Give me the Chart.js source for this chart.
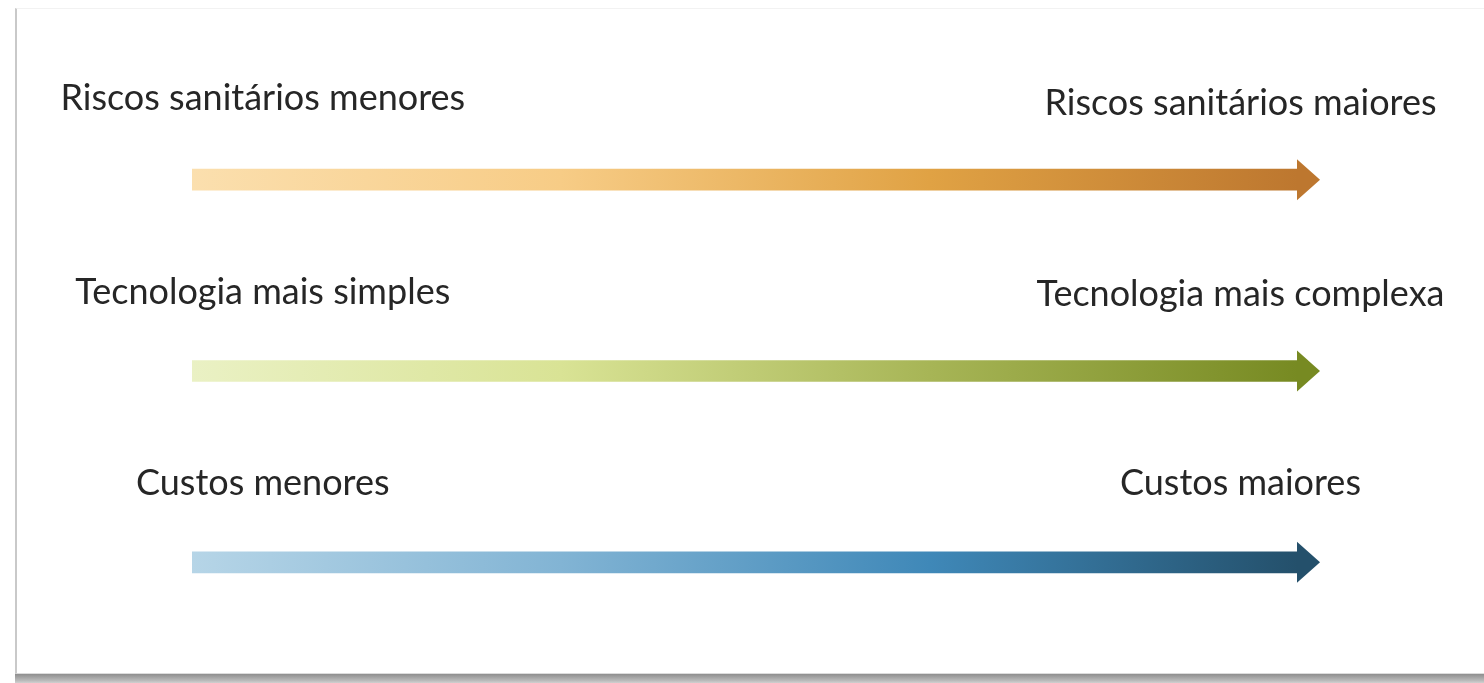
<!DOCTYPE html>
<html>
<head>
<meta charset="utf-8">
<script src="https://cdn.jsdelivr.net/npm/chart.js@4"></script>
<style>
  html, body { margin: 0; padding: 0; background: #ffffff; }
  body { width: 1484px; height: 683px; position: relative; overflow: hidden; }
  #card {
    position: absolute; left: 15px; top: 8px; width: 1480px; height: 664px;
    background: #fff; border-left: 2px solid #c9c9c9; border-top: 1px solid #f2f2f2;
    border-bottom: 1px solid #dcdcdc;
  }
  #shadow {
    position: absolute; left: 15px; top: 674px; width: 1480px; height: 9px;
    background: linear-gradient(#8e8e8e, #b8b8b8 70%, #d0d0d0);
  }
  canvas { position: absolute; left: 0; top: 0; }
</style>
</head>
<body>
<div id="card"></div>
<div id="shadow"></div>
<canvas id="chart" width="1484" height="683"></canvas>
<script>
// dados do diagrama
const rows = ['Riscos sanitários', 'Tecnologia', 'Custos'];
const arrowStart = [0, 0, 0];
const arrowEnd = [100, 100, 100];
const leftLabels = ['Riscos sanitários menores', 'Tecnologia mais simples', 'Custos menores'];
const rightLabels = ['Riscos sanitários maiores', 'Tecnologia mais complexa', 'Custos maiores'];

// cores dos gradientes (inicio -> fim)
const gradientStops = [
    ['#fbdfae', '#f7cc86', '#e0a244', '#bd772f'],
    ['#eaf1c4', '#d9e395', '#a7b556', '#778a22'],
    ['#b6d5e7', '#82b4d4', '#3f88b8', '#24506b']
];

function makeGradient(chart, i) {
    const area = chart.chartArea;
    if (!area) return gradientStops[i][0];
    const g = chart.ctx.createLinearGradient(area.left, 0, area.right, 0);
    const stops = gradientStops[i];
    stops.forEach((c, k) => g.addColorStop(k / (stops.length - 1), c));
    return g;
}

// pontas das setas + textos
const arrowPlugin = {
    id: 'arrows',
    afterDatasetsDraw(chart) {
        const ctx = chart.ctx;
        const meta = chart.getDatasetMeta(0);
        const xScale = chart.scales.x;
        meta.data.forEach((bar, i) => {
            const stops = gradientStops[i];
            ctx.save();
            ctx.fillStyle = stops[stops.length - 1];
            ctx.beginPath();
            ctx.moveTo(bar.x - 1, bar.y - 20.5);
            ctx.lineTo(bar.x + 22, bar.y);
            ctx.lineTo(bar.x - 1, bar.y + 20.5);
            ctx.closePath();
            ctx.fill();

            ctx.fillStyle = '#262626';
            ctx.font = '36px Lato';
            ctx.textAlign = 'center';
            ctx.textBaseline = 'alphabetic';
            ctx.fillText(leftLabels[i], xScale.getPixelForValue(6.4), bar.y - (i === 0 ? 70 : 67));
            ctx.fillText(rightLabels[i], xScale.getPixelForValue(94.8), bar.y - (i === 2 ? 67 : 65));
            ctx.restore();
        });
    }
};

document.addEventListener("DOMContentLoaded", function() {
    const ctx = document.getElementById('chart').getContext('2d');
    new Chart(ctx, {
        type: 'bar',
        data: {
            labels: rows,
            datasets: [{
                data: rows.map((r, i) => [arrowStart[i], arrowEnd[i]]),
                backgroundColor: c => makeGradient(c.chart, c.dataIndex),
                borderWidth: 0,
                borderSkipped: false,
                barThickness: 21
            }]
        },
        options: {
            indexAxis: 'y',
            responsive: false,
            animation: false,
            layout: { padding: { left: 192, right: 186, top: 84, bottom: 25 } },
            scales: {
                x: { type: 'linear', min: 0, max: 100, display: false },
                y: { type: 'category', display: false }
            },
            plugins: {
                legend: { display: false },
                tooltip: { enabled: false }
            }
        },
        plugins: [arrowPlugin]
    });
});
</script>
</body>
</html>
